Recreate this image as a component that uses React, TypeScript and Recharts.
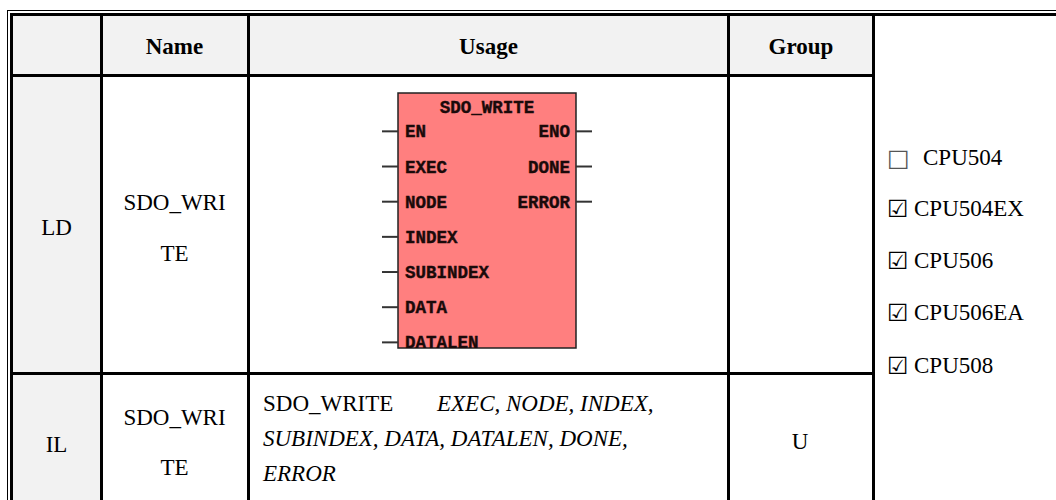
import { ScatterChart, Scatter, XAxis, YAxis, ReferenceArea } from 'recharts'

// table text
const headers = ['Name', 'Usage', 'Group']
const languages = ['LD', 'IL']
const instructionName = ['SDO_WRI', 'TE']
const ilMnemonic = 'SDO_WRITE'
const ilOperandLines = ['EXEC, NODE, INDEX,', 'SUBINDEX, DATA, DATALEN, DONE,', 'ERROR']
const ilGroup = 'U'
const cpuNames = ['CPU504', 'CPU504EX', 'CPU506', 'CPU506EA', 'CPU508']
const cpuSupported = [false, true, true, true, true]

// function block
const blockTitle = 'SDO_WRITE'
const inputPins = ['EN', 'EXEC', 'NODE', 'INDEX', 'SUBINDEX', 'DATA', 'DATALEN']
const outputPins = ['ENO', 'DONE', 'ERROR']

const inputData = inputPins.map((name, i) => ({ x: 0, y: i, name }))
const outputData = outputPins.map((name, i) => ({ x: 1, y: i, name }))
const titleData = [{ x: 0.5, y: -0.66, name: blockTitle }]

const SERIF = '"Liberation Serif", "Times New Roman", serif'
const MONO = '"Liberation Mono", "Courier New", monospace'

const pinText = {
  fontFamily: MONO,
  fontWeight: 700,
  fontSize: 17.5,
  fill: '#1a0a0a',
  stroke: '#1a0a0a',
  strokeWidth: 0.4,
}

function InputPin(props: any) {
  const { cx, cy, payload } = props
  return (
    <g>
      <line x1={cx - 16} x2={cx} y1={cy} y2={cy} stroke="#333" strokeWidth={2} />
      <text x={cx + 7} y={cy + 1} dominantBaseline="central" style={pinText}>
        {payload.name}
      </text>
    </g>
  )
}

function OutputPin(props: any) {
  const { cx, cy, payload } = props
  return (
    <g>
      <line x1={cx} x2={cx + 16} y1={cy} y2={cy} stroke="#333" strokeWidth={2} />
      <text x={cx - 6} y={cy + 1} dominantBaseline="central" textAnchor="end" style={pinText}>
        {payload.name}
      </text>
    </g>
  )
}

function TitleMark(props: any) {
  const { cx, cy, payload } = props
  return (
    <text x={cx} y={cy} dominantBaseline="central" textAnchor="middle" style={pinText}>
      {payload.name}
    </text>
  )
}

function FunctionBlock() {
  return (
    <ScatterChart
      width={210}
      height={267}
      margin={{ top: 2, right: 16, bottom: 10, left: 16 }}
    >
      <XAxis type="number" dataKey="x" domain={[0, 1]} hide />
      <YAxis type="number" dataKey="y" domain={[-1.09, 6.16]} reversed hide allowDataOverflow />
      <ReferenceArea
        x1={0}
        x2={1}
        y1={-1.09}
        y2={6.16}
        fill="#ff7f7f"
        fillOpacity={1}
        stroke="#222"
        strokeWidth={1.5}
        ifOverflow="visible"
      />
      <Scatter data={titleData} shape={TitleMark} isAnimationActive={false} />
      <Scatter data={inputData} shape={InputPin} isAnimationActive={false} />
      <Scatter data={outputData} shape={OutputPin} isAnimationActive={false} />
    </ScatterChart>
  )
}

function Rule({ x, y, w, h }: { x: number; y: number; w: number; h: number }) {
  return (
    <div style={{ position: 'absolute', left: x, top: y, width: w, height: h, background: '#000' }} />
  )
}

function Centered({ x, y, bold, children }: { x: number; y: number; bold?: boolean; children: any }) {
  return (
    <div
      style={{
        position: 'absolute',
        left: x,
        top: y,
        transform: 'translate(-50%, -50%)',
        fontFamily: SERIF,
        fontSize: 23,
        fontWeight: bold ? 700 : 400,
        lineHeight: 1,
        whiteSpace: 'nowrap',
        color: '#000',
      }}
    >
      {children}
    </div>
  )
}

function LeftText({ x, y, italic, children }: { x: number; y: number; italic?: boolean; children: any }) {
  return (
    <div
      style={{
        position: 'absolute',
        left: x,
        top: y,
        transform: 'translateY(-50%)',
        fontFamily: SERIF,
        fontSize: 23,
        fontStyle: italic ? 'italic' : 'normal',
        lineHeight: 1,
        whiteSpace: 'nowrap',
        color: '#000',
      }}
    >
      {children}
    </div>
  )
}

export default function App() {
  const headerX = [174.5, 488.5, 801]
  const nameRows = [[202, 253], [417, 467]]
  const langY = [227, 444]
  const ilLineY = [403, 438, 473]
  const cpuY = [157, 208, 260, 312, 365]

  return (
    <div
      style={{
        position: 'absolute',
        left: 0,
        top: 0,
        width: 1056,
        height: 500,
        overflow: 'hidden',
        background: '#fff',
      }}
    >
      {/* shaded header row and first column */}
      <div style={{ position: 'absolute', left: 12, top: 15, width: 860, height: 59, background: '#f2f2f2' }} />
      <div style={{ position: 'absolute', left: 12, top: 15, width: 88, height: 485, background: '#f2f2f2' }} />

      {/* borders */}
      <Rule x={7} y={10} w={1049} h={1} />
      <Rule x={10} y={13} w={1046} h={3} />
      <Rule x={7} y={10} w={1} h={490} />
      <Rule x={10} y={13} w={2.5} h={487} />
      <Rule x={100} y={13} w={2.5} h={487} />
      <Rule x={247} y={13} w={3} h={487} />
      <Rule x={727} y={13} w={3} h={487} />
      <Rule x={872} y={13} w={3} h={487} />
      <Rule x={10} y={74} w={865} h={3} />
      <Rule x={10} y={372} w={865} h={3} />

      {headers.map((h, i) => (
        <Centered key={h} x={headerX[i]} y={46} bold>
          {h}
        </Centered>
      ))}

      {languages.map((lang, r) => (
        <Centered key={lang} x={56.5} y={langY[r]}>
          {lang}
        </Centered>
      ))}

      {nameRows.map((ys, r) =>
        instructionName.map((part, i) => (
          <Centered key={`${r}-${i}`} x={174.5} y={ys[i]}>
            {part}
          </Centered>
        ))
      )}

      <div style={{ position: 'absolute', left: 382, top: 91 }}>
        <FunctionBlock />
      </div>

      <LeftText x={263} y={ilLineY[0]}>
        {ilMnemonic}
      </LeftText>
      {ilOperandLines.map((line, i) => (
        <LeftText key={line} x={i === 0 ? 437 : 263} y={ilLineY[i]} italic>
          {line}
        </LeftText>
      ))}

      <Centered x={800} y={441}>
        {ilGroup}
      </Centered>

      {cpuNames.map((cpu, i) => (
        <div key={cpu}>
          <div
            style={{
              position: 'absolute',
              left: 887,
              top: cpuY[i] + 1,
              transform: 'translateY(-50%)',
              fontFamily: '"DejaVu Sans", sans-serif',
              fontSize: 24,
              lineHeight: 1,
              color: cpuSupported[i] ? '#000' : '#555',
            }}
          >
            {cpuSupported[i] ? '\u2611' : '\u25A1'}
          </div>
          <LeftText x={cpuSupported[i] ? 914 : 923} y={cpuY[i]}>
            {cpu}
          </LeftText>
        </div>
      ))}
    </div>
  )
}
